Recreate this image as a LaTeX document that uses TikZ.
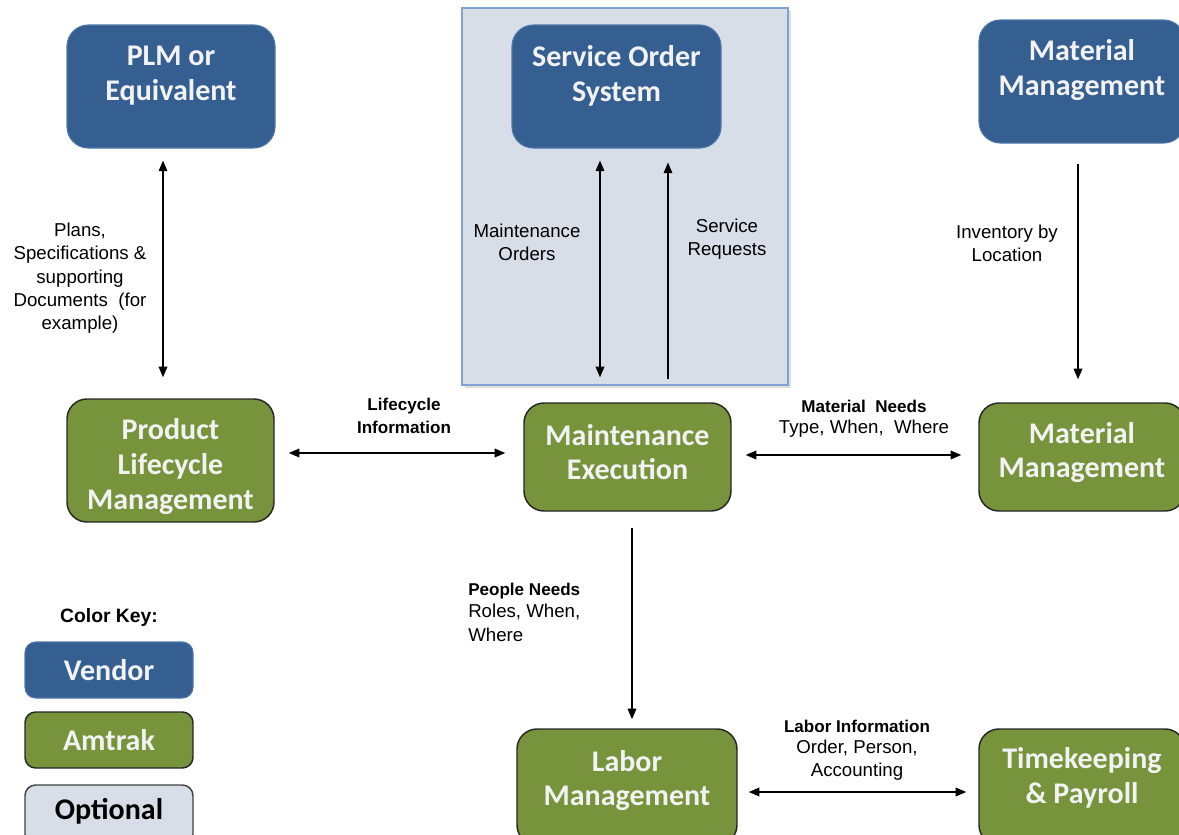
\documentclass[tikz,border=0pt]{standalone}
\usepackage{fontspec}
\setmainfont{Liberation Sans}
\newfontfamily\boxfont{Carlito}
\usetikzlibrary{arrows.meta,calc,shadows}

\definecolor{vblue}{HTML}{365F91}
\definecolor{vedge}{HTML}{4F76A8}
\definecolor{agreen}{HTML}{77933C}
\definecolor{optfill}{HTML}{D7DEE8}
\definecolor{optedge}{HTML}{7EA3D3}
\definecolor{boxtxt}{HTML}{F2F2F2}

\tikzset{
  vendor/.style={rectangle, rounded corners=16pt, fill=vblue, draw=vedge, line width=0.8pt},
  amtrak/.style={rectangle, rounded corners=15pt, fill=agreen, draw=black!85, line width=1.1pt},
  keybox/.style={rectangle, rounded corners=8pt, minimum width=126pt, minimum height=42pt},
  boxtext/.style={font=\boxfont\bfseries\fontsize{22.5}{26}\selectfont, text=boxtxt, align=center},
  lbl/.style={font=\fontsize{14}{17.5}\selectfont, align=center, inner sep=0pt},
  blbl/.style={font=\bfseries\fontsize{12.8}{17}\selectfont, align=center, inner sep=0pt},
  arr/.style={line width=1.1pt, -{Triangle[length=8pt,width=6.5pt]}},
  darr/.style={line width=1.1pt, {Triangle[length=8pt,width=6.5pt]}-{Triangle[length=8pt,width=6.5pt]}},
}

\begin{document}
\begin{tikzpicture}[x=0.75pt, y=-0.75pt]
\useasboundingbox (0,0) rectangle (1179,835);

% optional region behind the service order system
\node[rectangle, fill=optfill, draw=optedge, line width=1pt,
      minimum width=244.5pt, minimum height=282.75pt,
      drop shadow={shadow xshift=2pt, shadow yshift=-2pt, opacity=0.25}] (opt) at (625,196.5) {};

% vendor systems
\node[vendor, minimum width=156pt, minimum height=92.25pt] (plmv) at (171,86.5) {};
\node[boxtext] (plmvt) at (171,75.5) {PLM or\\Equivalent};
\node[vendor, minimum width=156.75pt, minimum height=92.25pt] (sos) at (616.5,86.5) {};
\node[boxtext] (sost) at (616.5,75.5) {Service Order\\System};
\node[vendor, minimum width=154.5pt, minimum height=92.25pt] (mmv) at (1082,81.5) {};
\node[boxtext] (mmvt) at (1082,70) {Material\\Management};

% Amtrak systems
\node[amtrak, minimum width=155.25pt, minimum height=92.25pt] (plmg) at (170.5,460.5) {};
\node[boxtext] (plmgt) at (170.5,466.5) {Product\\Lifecycle\\Management};
\node[amtrak, minimum width=155.25pt, minimum height=81pt] (me) at (627.5,457) {};
\node[boxtext] (met) at (627.5,452) {Maintenance\\Execution};
\node[amtrak, minimum width=154.5pt, minimum height=81pt] (mmg) at (1082,457) {};
\node[boxtext] (mmgt) at (1082,452.5) {Material\\Management};
\node[amtrak, minimum width=165pt, minimum height=87pt] (lab) at (627,787) {};
\node[boxtext] (labt) at (627,780.5) {Labor\\Management};
\node[amtrak, minimum width=154.5pt, minimum height=87pt] (tk) at (1082,787) {};
\node[boxtext] (tkt) at (1082,777.5) {Timekeeping\\\& Payroll};

% connectors
\draw[darr, shorten <=9pt, shorten >=15.75pt]
  ($(plmv.south)+(-8,0)$) -- ($(plmg.north)+(-7.5,0)$);
\draw[darr, shorten <=9pt, shorten >=18.75pt]
  ($(sos.south)+(-16.5,0)$) -- ($(me.north)+(-27.5,0)$);
\draw[arr, shorten <=17.25pt, shorten >=10.5pt]
  ($(me.north)+(40.5,0)$) -- ($(sos.south)+(51.5,0)$);
\draw[arr, shorten <=15pt, shorten >=17.25pt]
  ($(mmv.south)+(-4,0)$) -- ($(mmg.north)+(-4,0)$);
\draw[darr, shorten <=10.5pt, shorten >=13.5pt]
  ($(plmg.east)+(0,-7.5)$) -- ($(me.west)+(0,-4)$);
\draw[darr, shorten <=10.5pt, shorten >=12.75pt]
  ($(me.east)+(0,-2)$) -- ($(mmg.west)+(0,-2)$);
\draw[arr, shorten <=12pt, shorten >=6.75pt]
  ($(me.south)+(4.5,0)$) -- ($(lab.north)+(5,0)$);
\draw[darr, shorten <=8.25pt, shorten >=9pt]
  ($(lab.east)+(0,5)$) -- ($(tk.west)+(0,5)$);

% connector labels
\node[lbl] (l1) at (80,278.5) {Plans,\\Specifications \&\\supporting\\Documents~~(for\\example)};
\node[lbl] (l2) at (527,242) {Maintenance\\Orders};
\node[lbl] (l3) at (727,239) {Service\\Requests};
\node[lbl] (l4) at (1007,243) {Inventory by\\Location};
\node[blbl] (l5) at (404,416) {Lifecycle\\Information};
\node[blbl] (l6) at (864,406) {Material~~Needs};
\node[lbl] (l6b) at (864,429) {Type, When,~~Where};
\node[blbl, anchor=west] (l7) at (468,591) {People Needs};
\node[lbl, align=left, anchor=north west] (l7b) at (468,604) {Roles, When,\\Where};
\node[blbl] (l8) at (857,726) {Labor Information};
\node[lbl] (l8b) at (857,760.5) {Order, Person,\\Accounting};

% colour key
\node[blbl, font=\bfseries\fontsize{14.5}{16}\selectfont] (key) at (109,617) {Color Key:};
\node[keybox, fill=vblue, draw=vedge, line width=0.8pt] (kv) at (109,670) {};
\node[boxtext] (kvt) at (109,670) {Vendor};
\node[keybox, fill=agreen, draw=black!85, line width=1.1pt] (ka) at (109,740) {};
\node[boxtext] (kat) at (109,740) {Amtrak};
\node[keybox, fill=optfill, draw=black!75, line width=1.1pt, minimum height=45pt] (ko) at (109,815) {};
\node[boxtext, text=black] (kot) at (109,811) {Optional};
\end{tikzpicture}
\end{document}
